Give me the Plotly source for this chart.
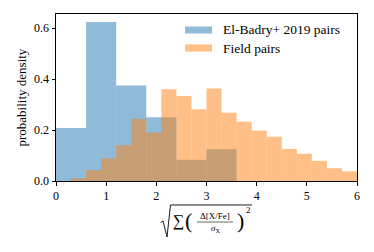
import numpy as np
import plotly.graph_objects as go

# ---- data ----
elbadry_edges = [0.0, 0.6, 1.2, 1.8, 2.4, 3.0, 3.6]
elbadry_density = [0.208, 0.625, 0.375, 0.250, 0.083, 0.125]

field_edges = [0.0, 0.3, 0.6, 0.9, 1.2, 1.5, 1.8, 2.1, 2.4, 2.7, 3.0,
               3.3, 3.6, 3.9, 4.2, 4.5, 4.8, 5.1, 5.4, 5.7, 6.0]
field_density = [0.0, 0.011, 0.043, 0.089, 0.140, 0.244, 0.190, 0.360,
                 0.334, 0.282, 0.363, 0.268, 0.233, 0.198, 0.174, 0.126,
                 0.107, 0.079, 0.050, 0.038]

x_ticks = [0, 1, 2, 3, 4, 5, 6]
y_ticks = [0.0, 0.2, 0.4, 0.6]
series_names = ["El-Badry+ 2019 pairs", "Field pairs"]
y_label = "probability density"

BLUE = "rgba(31,119,180,0.5)"
ORANGE = "rgba(255,127,14,0.5)"
FONT = "'Liberation Serif', serif"

W, H = 374, 252
L, R, T, B = 56, 17, 14, 71
PW, PH = W - L - R, H - T - B


def px(x):
    return (x - L) / PW


def py(y):
    return (H - B - y) / PH


def bars(edges, dens, color, name):
    e = np.asarray(edges)
    return go.Bar(x=(e[:-1] + e[1:]) / 2, y=dens, width=np.diff(e),
                  marker=dict(color=color, line=dict(width=0)),
                  name=name, showlegend=False, hoverinfo="skip")


fig = go.Figure()
fig.add_trace(bars(elbadry_edges, elbadry_density, BLUE, series_names[0]))
fig.add_trace(bars(field_edges, field_density, ORANGE, series_names[1]))

fig.update_layout(
    width=W, height=H, margin=dict(l=L, r=R, t=T, b=B, autoexpand=False),
    plot_bgcolor="white", paper_bgcolor="white", barmode="overlay",
    showlegend=False,
    font=dict(family=FONT, size=12, color="black"),
)
axis_common = dict(showgrid=False, zeroline=False, showline=True, mirror=True,
                   linecolor="black", linewidth=1, ticks="outside", ticklen=3.5,
                   tickwidth=1, tickcolor="black", automargin=False,
                   tickfont=dict(family=FONT, size=12, color="black"))
fig.update_xaxes(range=[0, 6], tickvals=x_ticks, **axis_common)
fig.update_yaxes(range=[0, 0.656], tickvals=y_ticks, tickformat=".1f", **axis_common)

ann = []
# y label
ann.append(dict(x=px(21), y=py(97.5), xref="paper", yref="paper", text=y_label,
                textangle=-90, xanchor="center", yanchor="middle",
                showarrow=False, font=dict(size=13)))

# legend (manual, matplotlib style)
for i, (name, col) in enumerate(zip(series_names, [BLUE, ORANGE])):
    yc = 30 + i * 18
    fig.add_shape(type="rect", xref="paper", yref="paper",
                  x0=px(185), x1=px(212), y0=py(yc - 3.5), y1=py(yc + 3.5),
                  fillcolor=col, line=dict(width=0))
    ann.append(dict(x=px(221), y=py(yc), xref="paper", yref="paper", text=name,
                    xanchor="left", yanchor="middle", showarrow=False,
                    font=dict(size=13.5)))

# x label: sqrt( sum( (Delta[X/Fe] / sigma_X)^2 ) )
def t(x, y, s, size, anchor="center"):
    ann.append(dict(x=px(x), y=py(y), xref="paper", yref="paper", text=s,
                    xanchor=anchor, yanchor="middle", showarrow=False,
                    font=dict(size=size)))

# radical sign with its overbar
rad = "M %.4f,%.4f L %.4f,%.4f L %.4f,%.4f L %.4f,%.4f L %.4f,%.4f" % (
    px(160.5), py(222.5), px(163), py(221), px(167), py(237),
    px(170.5), py(205), px(252), py(205))
fig.add_shape(type="path", xref="paper", yref="paper", path=rad,
              line=dict(color="black", width=0.9))
t(178, 221, "∑", 16)
t(188.5, 220.5, "(", 22)
t(215, 215.5, "Δ[X/Fe]", 9)
fig.add_shape(type="line", xref="paper", yref="paper", x0=px(197), x1=px(233),
              y0=py(222), y1=py(222), line=dict(color="black", width=0.6))
t(215.5, 228.5, "<i>σ</i><sub>X</sub>", 9)
t(240, 220.5, ")", 22)
t(248, 210, "2", 9)

fig.update_layout(annotations=ann)
fig.write_html("out.html", config={"displayModeBar": False},
               post_script="document.body.style.margin='0px';")
